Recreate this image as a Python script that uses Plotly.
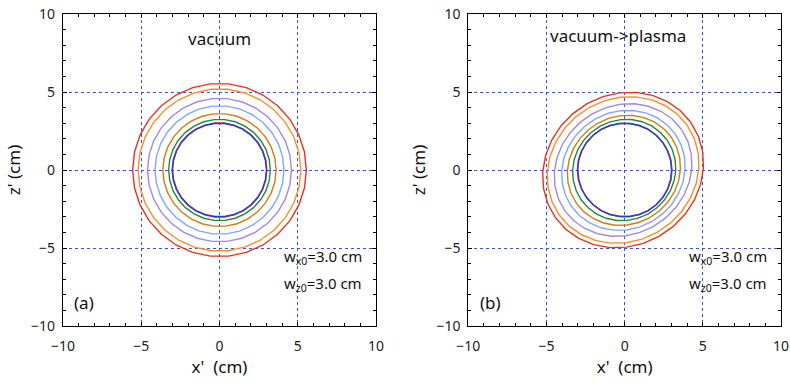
import numpy as np
import plotly.graph_objects as go
from plotly.subplots import make_subplots

# ---- data ----
colors = ["#e2381f", "#1f3fe0", "#1f8a3a", "#d77a10", "#7fa6ff", "#a08ae6", "#ff8c28", "#e8321c"]
# (a) vacuum: circular contours, radius in cm
radii_vac = [3.03, 3.0, 3.25, 3.62, 4.12, 4.6, 5.2, 5.55]
# (b) vacuum->plasma: tilted elliptical contours
plasma_a = [3.03, 3.0, 3.35, 3.7, 4.05, 4.55, 5.0, 5.3]
plasma_b = [3.0, 3.0, 3.2, 3.45, 3.75, 4.1, 4.55, 4.83]
plasma_tilt_deg = [0, 0, 35, 35, 35, 35, 35, 35]
plasma_cx = [0.0, 0.0, -0.03, -0.05, -0.08, -0.1, -0.1, -0.1]
plasma_cz = [0.0, 0.0, 0.0, -0.02, -0.02, 0.0, 0.0, 0.0]
n_vertices = 30

titles = ["vacuum", "vacuum->plasma"]
panel_tags = ["(a)", "(b)"]
wx0 = 3.0
wz0 = 3.0
axis_range = [-10, 10]
tick_vals = [-10, -5, 0, 5, 10]

font_family = "Noto Sans, DejaVu Sans, sans-serif"

fig = make_subplots(rows=1, cols=2, horizontal_spacing=0.1)

t = np.linspace(0, 2 * np.pi, n_vertices + 1)
for i, (r, c) in enumerate(zip(radii_vac, colors)):
    fig.add_trace(go.Scatter(x=r * np.cos(t), y=r * np.sin(t), mode="lines",
                             line=dict(color=c, width=1.4), showlegend=False,
                             hoverinfo="skip"), row=1, col=1)

for i, c in enumerate(colors):
    a, b = plasma_a[i], plasma_b[i]
    th = np.deg2rad(plasma_tilt_deg[i])
    u, v = a * np.cos(t), b * np.sin(t)
    x = plasma_cx[i] + u * np.cos(th) - v * np.sin(th)
    z = plasma_cz[i] + u * np.sin(th) + v * np.cos(th)
    fig.add_trace(go.Scatter(x=x, y=z, mode="lines",
                             line=dict(color=c, width=1.4), showlegend=False,
                             hoverinfo="skip"), row=1, col=2)

axis_common = dict(
    range=axis_range, tickvals=tick_vals, showline=True, linecolor="black",
    linewidth=1.2, mirror="ticks", ticks="inside", ticklen=4, tickcolor="black",
    showgrid=True, gridcolor="#3355dd", griddash="3px,3px", gridwidth=1,
    zeroline=False, automargin=False,
    tickfont=dict(family=font_family, size=14, color="#222"),
    minor=dict(dtick=1, ticks="inside", ticklen=3, tickcolor="black", showgrid=False),
)

fig.update_xaxes(**axis_common)
fig.update_yaxes(**axis_common)
fig.update_xaxes(domain=[0, 0.4359], ticklabelstandoff=7, row=1, col=1)
fig.update_xaxes(domain=[0.5645, 1.0], ticklabelstandoff=7, row=1, col=2)
fig.update_yaxes(ticklabelstandoff=4)
for col in (1, 2):
    fig.update_xaxes(title=dict(text="x'  (cm)", font=dict(family=font_family, size=17, color="#111"),
                                standoff=4), row=1, col=col)
    fig.update_yaxes(title=dict(text="z' (cm)", font=dict(family=font_family, size=17, color="#111"),
                                standoff=6), row=1, col=col)

ann_font = dict(family=font_family, size=17, color="#111")
for k, (xref, yref) in enumerate([("x", "y"), ("x2", "y2")]):
    fig.add_annotation(x=0 if k == 0 else -0.4, y=8.45 if k == 0 else 8.6, xref=xref, yref=yref,
                       text=titles[k], showarrow=False, font=ann_font)
    fig.add_annotation(x=-9.4, y=-8.5, xref=xref, yref=yref, text=panel_tags[k],
                       showarrow=False, font=ann_font, xanchor="left")
    fig.add_annotation(x=4.0, y=-5.6, xref=xref, yref=yref,
                       text=f"w<sub>x0</sub>=%.1f cm" % wx0, showarrow=False,
                       font=dict(family=font_family, size=15, color="#111"), xanchor="left")
    fig.add_annotation(x=4.0, y=-7.3, xref=xref, yref=yref,
                       text=f"w<sub>z0</sub>=%.1f cm" % wz0, showarrow=False,
                       font=dict(family=font_family, size=15, color="#111"), xanchor="left")

fig.update_layout(width=790, height=385, margin=dict(l=63, r=9, t=14, b=59),
                  plot_bgcolor="white", paper_bgcolor="white")

fig.write_html("out.html")
